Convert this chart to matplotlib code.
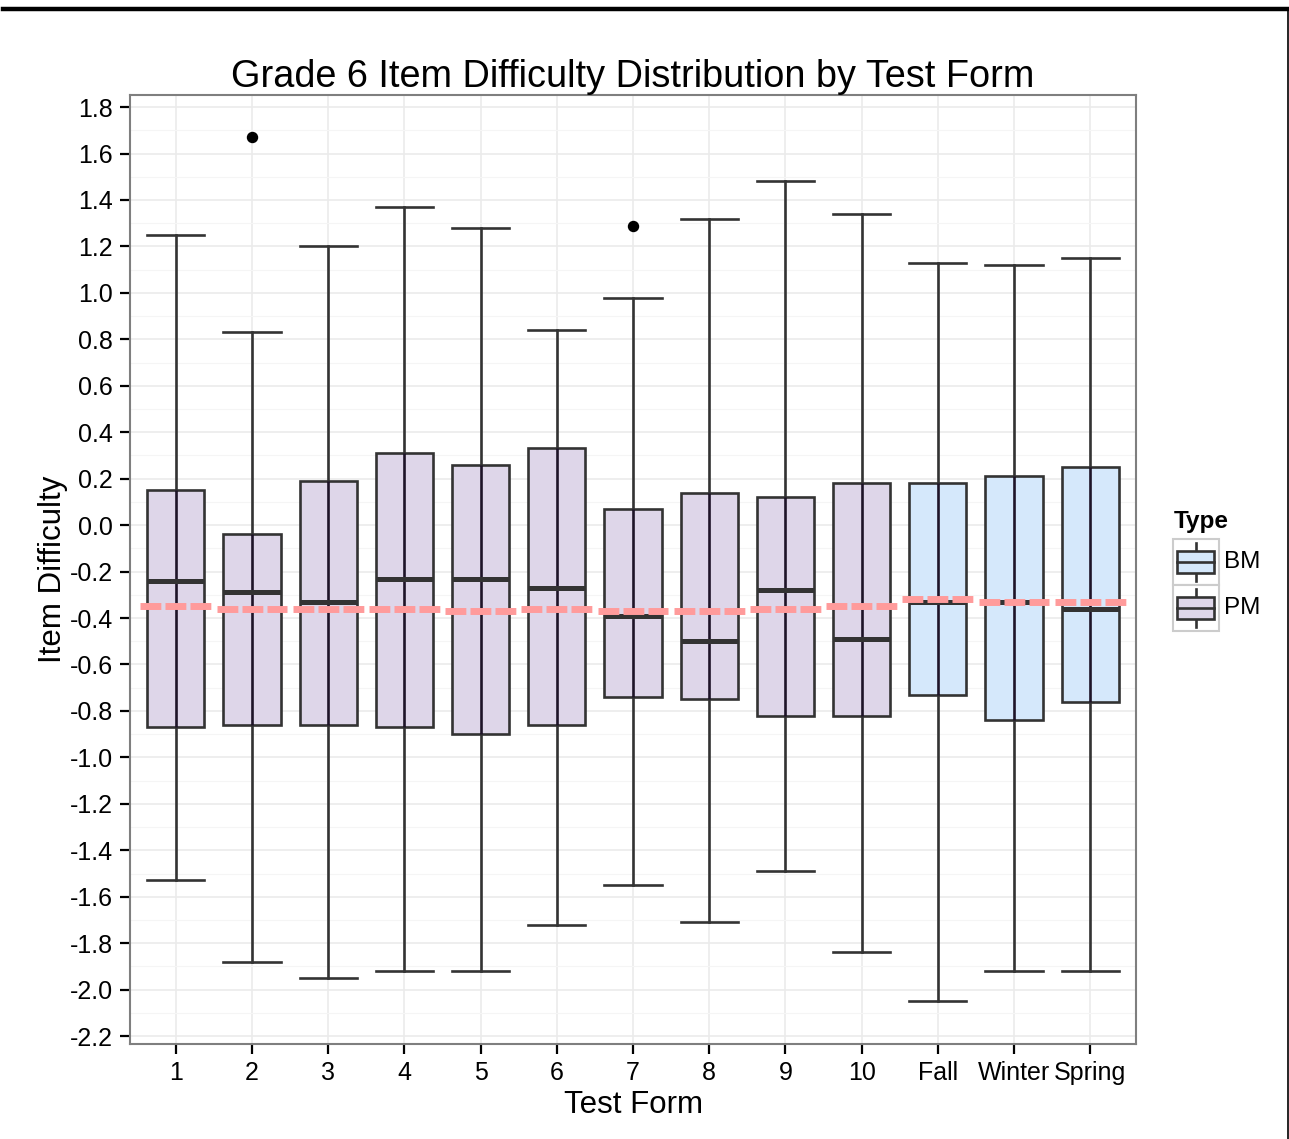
import matplotlib
matplotlib.use("Agg")
import matplotlib.pyplot as plt
from matplotlib.patches import Rectangle
from matplotlib.lines import Line2D
import numpy as np

# ---------------- data ----------------
forms = ["1", "2", "3", "4", "5", "6", "7", "8", "9", "10", "Fall", "Winter", "Spring"]
form_type = ["PM"] * 10 + ["BM"] * 3
whisker_low = [-1.53, -1.88, -1.95, -1.92, -1.92, -1.72, -1.55, -1.71, -1.49, -1.84, -2.05, -1.92, -1.92]
q1 = [-0.87, -0.86, -0.86, -0.87, -0.90, -0.86, -0.74, -0.75, -0.82, -0.82, -0.73, -0.84, -0.76]
median = [-0.24, -0.29, -0.33, -0.23, -0.23, -0.27, -0.39, -0.50, -0.28, -0.49, -0.33, -0.33, -0.36]
q3 = [0.15, -0.04, 0.19, 0.31, 0.26, 0.33, 0.07, 0.14, 0.12, 0.18, 0.18, 0.21, 0.25]
whisker_high = [1.25, 0.83, 1.20, 1.37, 1.28, 0.84, 0.98, 1.32, 1.48, 1.34, 1.13, 1.12, 1.15]
means = [-0.35, -0.36, -0.36, -0.36, -0.37, -0.36, -0.37, -0.37, -0.36, -0.35, -0.32, -0.33, -0.33]
outlier_form = ["2", "7"]
outlier_value = [1.67, 1.29]
y_ticks = [round(-2.2 + 0.2 * i, 1) for i in range(21)]

type_fill = {"BM": "#D5E8FB", "PM": "#DED6E9"}
legend_types = ["BM", "PM"]

# ---------------- figure ----------------
W, H = 1289, 1139
fig = plt.figure(figsize=(W / 100, H / 100), dpi=100)
plt.rcParams['font.family'] = ['Liberation Sans', 'DejaVu Sans']

L, T, R, B = 130, 95, 1136, 1044
ax = fig.add_axes([L / W, 1 - B / H, (R - L) / W, (B - T) / H])

pos = np.arange(1, len(forms) + 1)
stats = []
for i, f in enumerate(forms):
    fl = [v for of, v in zip(outlier_form, outlier_value) if of == f]
    stats.append(dict(med=median[i], q1=q1[i], q3=q3[i], whislo=whisker_low[i],
                      whishi=whisker_high[i], fliers=fl, label=f))

edge = "#333333"
lw = 1.9
res = ax.bxp(stats, positions=pos, widths=0.75, capwidths=0.75, patch_artist=True,
             boxprops=dict(edgecolor=edge, linewidth=lw),
             whiskerprops=dict(color=edge, linewidth=lw),
             capprops=dict(color=edge, linewidth=lw),
             medianprops=dict(color=edge, linewidth=3.6, solid_capstyle='butt'),
             flierprops=dict(marker='o', markerfacecolor='black', markeredgecolor='black',
                             markersize=7.2, linestyle='none'),
             manage_ticks=False, zorder=3)
for patch, t in zip(res['boxes'], form_type):
    patch.set_facecolor(type_fill[t])
    patch.set_zorder(2)
for m in res['medians']:
    m.set_zorder(4)

# whisker line visible through the box
ax.vlines(pos, q1, q3, colors="#1E1428", linewidth=lw, zorder=3)

# mean dashed lines
ax.hlines(means, pos - 0.465, pos + 0.465, colors="#FF9B9B", linewidth=5.0,
          linestyles=[(0, (3.0, 0.6))], zorder=5)

# axes styling
ax.set_xlim(0.4, len(forms) + 0.6)
ax.set_xticks(pos)
ax.set_xticklabels(forms)
ax.set_yticks(y_ticks)
ax.set_yticklabels([f"{v:.1f}" for v in y_ticks])
ax.set_yticks([round(v + 0.1, 1) for v in y_ticks[:-1]] + [-2.3], minor=True)
ax.set_ylim(-2.234, 1.852)
ax.grid(True, which='major', color="#EBEBEB", linewidth=1.2, zorder=0)
ax.grid(True, which='minor', axis='y', color="#F5F5F5", linewidth=0.8, zorder=0)
ax.set_axisbelow(True)
ax.tick_params(axis='both', which='major', length=7.5, width=1.6, color='black',
               labelsize=18, labelcolor='black', pad=5)
ax.tick_params(axis='both', which='minor', length=0)
for s in ax.spines.values():
    s.set_color("#7F7F7F")
    s.set_linewidth(1.5)

ax.set_title("Grade 6 Item Difficulty Distribution by Test Form", fontsize=27.3, pad=6)
ax.set_xlabel("Test Form", fontsize=22.5, labelpad=3)
ax.set_ylabel("Item Difficulty", fontsize=22.5, labelpad=1)

# ---------------- legend & page border (pixel overlay) ----------------
ov = fig.add_axes([0, 0, 1, 1], zorder=10)
ov.set_xlim(0, W)
ov.set_ylim(H, 0)
ov.axis('off')
ov.patch.set_alpha(0)

ov.add_line(Line2D([3, W], [9, 9], color='black', linewidth=3.2))
ov.add_line(Line2D([1287.5, 1287.5], [9, H], color='black', linewidth=1.2))

ov.text(1174, 528, "Type", fontsize=17.5, fontweight='bold', ha='left', va='baseline')
key_top = 539
key_h = 46
for k, t in enumerate(legend_types):
    y0 = key_top + k * key_h
    ov.add_patch(Rectangle((1173, y0), 46, key_h, facecolor='white', edgecolor='#CCCCCC',
                           linewidth=1.5, zorder=1))
    cy = y0 + key_h / 2
    ov.add_line(Line2D([1196, 1196], [y0 + 4, y0 + key_h - 4], color=edge, linewidth=lw, zorder=2))
    ov.add_patch(Rectangle((1177, cy - 11), 37, 22, facecolor=type_fill[t], edgecolor=edge,
                           linewidth=lw, zorder=3))
    ov.add_line(Line2D([1177, 1214], [cy, cy], color=edge, linewidth=lw, zorder=4))
    ov.text(1224, cy, t, fontsize=17.5, ha='left', va='center')

fig.savefig("out.png", dpi=100, facecolor='white')
